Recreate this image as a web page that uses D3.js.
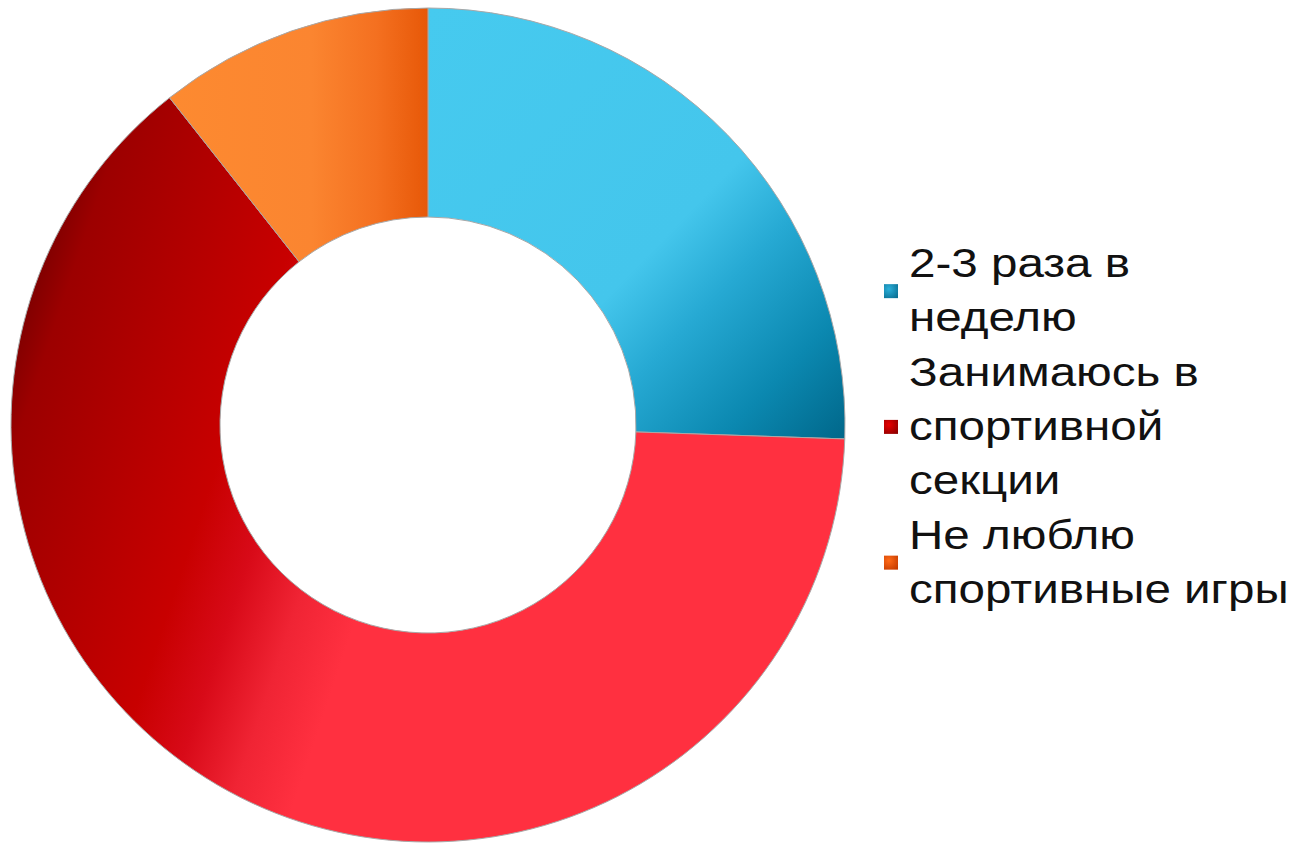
<!DOCTYPE html>
<html>
<head>
<meta charset="utf-8">
<script src="https://cdn.jsdelivr.net/npm/d3@7"></script>
<style>
  html, body { margin: 0; padding: 0; background: #fff; }
  #chart { width: 1297px; height: 846px; }
</style>
</head>
<body>
<div id="chart"></div>
<script>
// chart data
var categories = ["2-3 раза в неделю", "Занимаюсь в спортивной секции", "Не люблю спортивные игры"];
var values = [12, 30, 5];
// legend label lines, as wrapped in the picture
var legendLines = [
    ["2-3 раза в", "неделю"],
    ["Занимаюсь в", "спортивной", "секции"],
    ["Не люблю", "спортивные игры"]
];

// gradient stops for every slice: [offset, colour]
var sliceStops = [
    [[0, "#46caef"], [0.55, "#44c6ec"], [0.68, "#26a9d3"], [0.85, "#0b88b0"], [1, "#00678a"]],
    [[0, "#780000"], [0.05, "#9c0000"], [0.2, "#b90000"], [0.28, "#c80000"], [0.35, "#d80a18"], [0.42, "#f02434"], [0.49, "#ff3040"], [1, "#ff3040"]],
    [[0, "#fd8a30"], [0.55, "#fb8530"], [0.8, "#f47020"], [1, "#e75808"]]
];
var keyStops = [
    ["#2bb0da", "#0a7094"],
    ["#e80000", "#8e0000"],
    ["#ff6a18", "#c63c00"]
];

var svg = d3.select("#chart").append("svg")
    .attr("width", 1297)
    .attr("height", 846);

var defs = svg.append("defs");

var cx = 428, cy = 425;
var outerR = 417, innerR = 208;

var pie = d3.pie().sort(null).value(function(d) { return d; });
var arc = d3.arc().innerRadius(innerR).outerRadius(outerR);
var arcs = pie(values);

// gradient directions (object bounding box units)
var gradDir = [
    {x1: 0, y1: 0, x2: 1, y2: 1},
    {x1: 0, y1: 0.3, x2: 1, y2: 0.6},
    {x1: 0, y1: 0, x2: 1, y2: 0}
];

sliceStops.forEach(function(stops, i) {
    var g = defs.append("linearGradient")
        .attr("id", "slice" + i)
        .attr("x1", gradDir[i].x1).attr("y1", gradDir[i].y1)
        .attr("x2", gradDir[i].x2).attr("y2", gradDir[i].y2);
    stops.forEach(function(s) {
        g.append("stop").attr("offset", s[0]).attr("stop-color", s[1]);
    });
});

keyStops.forEach(function(c, i) {
    var g = defs.append("radialGradient")
        .attr("id", "key" + i)
        .attr("cx", 0.35).attr("cy", 0.35).attr("r", 0.8);
    g.append("stop").attr("offset", 0).attr("stop-color", c[0]);
    g.append("stop").attr("offset", 1).attr("stop-color", c[1]);
});

var donut = svg.append("g")
    .attr("transform", "translate(" + cx + "," + cy + ")");

donut.selectAll("path.slice")
    .data(arcs)
    .enter()
    .append("path")
    .classed("slice", true)
    .attr("d", arc)
    .attr("fill", function(d, i) { return "url(#slice" + i + ")"; })
    .attr("stroke", "#a8a8a8")
    .attr("stroke-width", 1);

// legend
var legend = svg.append("g").attr("transform", "translate(884,0)");
var lineH = 54.3;
var firstBase = 277;
var fontSize = 41;

var row = 0;
legendLines.forEach(function(lines, i) {
    var start = firstBase + row * lineH;
    var midBase = start + (lines.length - 1) * lineH / 2;

    legend.append("rect")
        .attr("x", 0)
        .attr("y", midBase - 20)
        .attr("width", 14)
        .attr("height", 14)
        .attr("fill", "url(#key" + i + ")");

    lines.forEach(function(t, j) {
        legend.append("text")
            .attr("transform", "translate(25," + (start + j * lineH) + ") scale(1.16,1)")
            .attr("font-family", "'Liberation Sans', Arial, sans-serif")
            .attr("font-size", fontSize)
            .attr("fill", "#111")
            .text(t);
    });
    row += lines.length;
});
</script>
</body>
</html>
